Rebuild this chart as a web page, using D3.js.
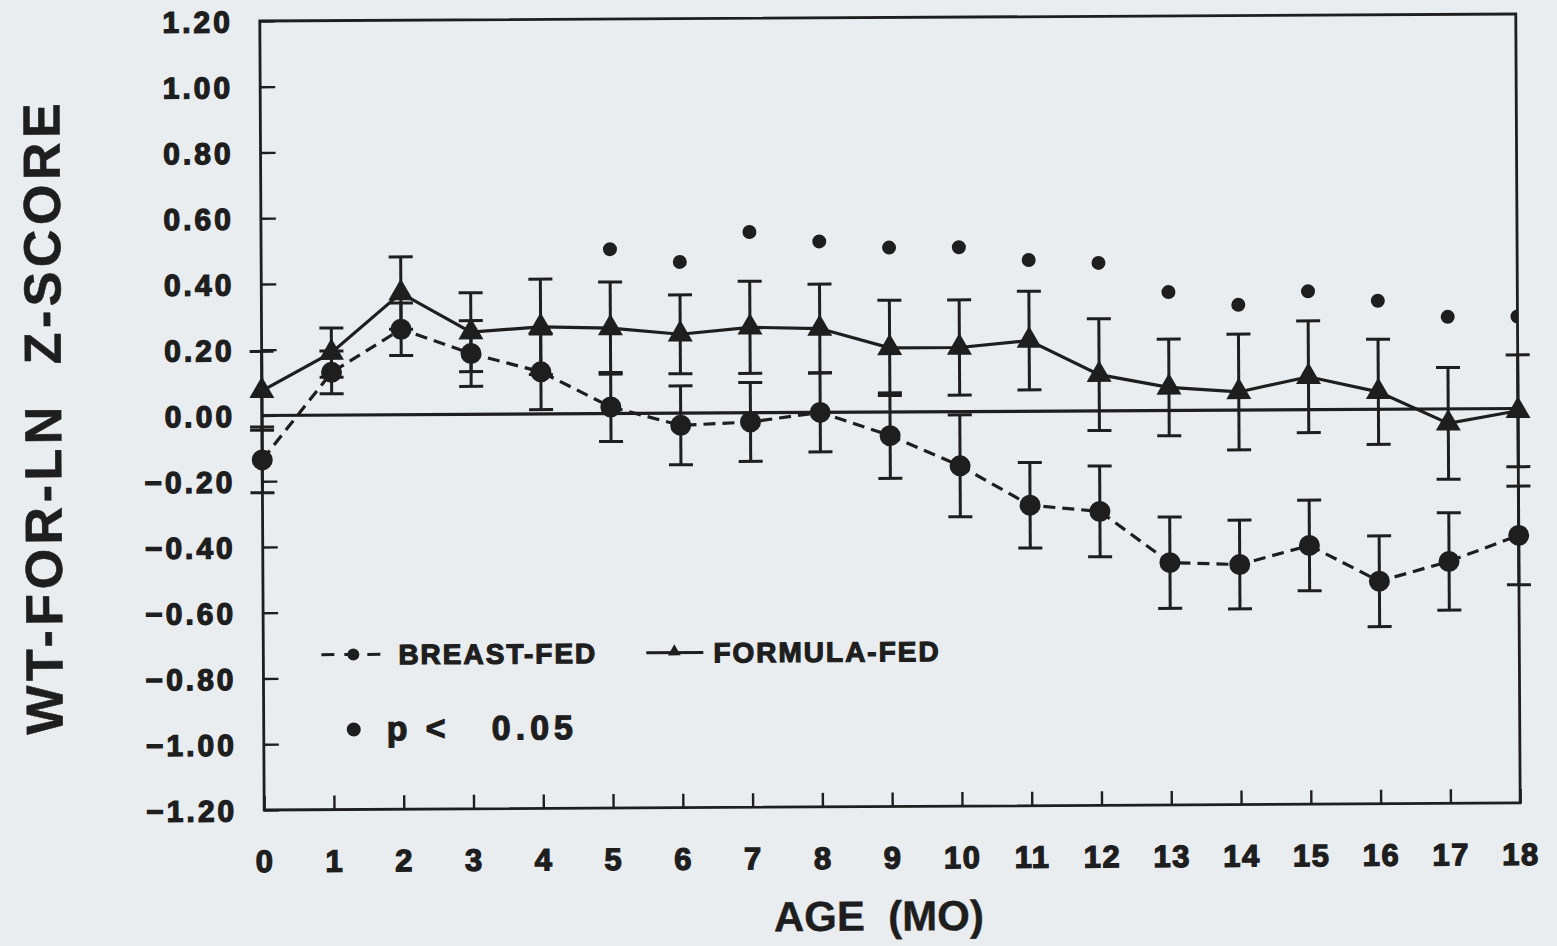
<!DOCTYPE html>
<html>
<head>
<meta charset="utf-8">
<script src="https://cdn.jsdelivr.net/npm/d3@7"></script>
<style>
  html, body { margin: 0; padding: 0; background: #e9edf0; }
  svg { display: block; }
  text { font-family: "Liberation Sans", Arial, sans-serif; font-weight: bold; fill: #1e1e1e; white-space: pre; }
</style>
</head>
<body>
<svg id="chart" width="1557" height="946"></svg>
<script>
// Weight-for-length z-score by age, breast-fed vs formula-fed infants
const months = d3.range(0, 19);
const monthLabels = months.map(String);
const yTicks = [1.2, 1.0, 0.8, 0.6, 0.4, 0.2, 0.0, -0.2, -0.4, -0.6, -0.8, -1.0, -1.2];

const breastFed  = [-0.135, 0.13, 0.26, 0.185, 0.128, 0.02, -0.037, -0.028, 0.0, -0.072, -0.165, -0.286, -0.306, -0.463, -0.47, -0.413, -0.523, -0.464, -0.386];
const breastErr  = [0.10, 0.065, 0.08, 0.10, 0.115, 0.105, 0.12, 0.12, 0.12, 0.13, 0.155, 0.13, 0.138, 0.139, 0.135, 0.138, 0.138, 0.148, 0.15];
const formulaFed = [0.075, 0.19, 0.37, 0.25, 0.265, 0.26, 0.24, 0.26, 0.255, 0.195, 0.195, 0.215, 0.11, 0.07, 0.055, 0.10, 0.053, -0.044, -0.007];
const formulaErr = [0.12, 0.075, 0.11, 0.12, 0.145, 0.14, 0.12, 0.14, 0.135, 0.145, 0.145, 0.15, 0.17, 0.147, 0.176, 0.17, 0.16, 0.17, 0.17];

// months where the difference is significant (p < 0.05) and the height of each marker
const sigMonths = [5, 6, 7, 8, 9, 10, 11, 12, 13, 14, 15, 16, 17, 18];
const sigLevel  = [0.50, 0.46, 0.55, 0.52, 0.50, 0.50, 0.46, 0.45, 0.36, 0.32, 0.36, 0.33, 0.28, 0.28];

const ink = "#1e1e1e";
const svg = d3.select("#chart");

const plotLeft = 262, plotRight = 1518, plotTop = 21, plotBottom = 810;
const x = d3.scaleLinear().domain([0, 18]).range([plotLeft, plotRight]);
const y = d3.scaleLinear().domain([-1.2, 1.2]).range([plotBottom, plotTop]);

// whole figure sits very slightly askew, like a scanned page
const root = svg.append("g").attr("transform", `rotate(-0.32 ${plotLeft} ${y(0)})`);

root.append("clipPath").attr("id", "plotClip")
  .append("rect").attr("x", plotLeft).attr("y", plotTop)
  .attr("width", plotRight - plotLeft).attr("height", plotBottom - plotTop);

// frame
root.append("rect")
  .attr("x", plotLeft).attr("y", plotTop).attr("width", plotRight - plotLeft).attr("height", plotBottom - plotTop)
  .attr("fill", "none").attr("stroke", ink).attr("stroke-width", 2.8);

// axes
const xAxis = d3.axisBottom(x).tickValues(months).tickFormat((d, i) => monthLabels[i])
  .tickSizeInner(-14).tickSizeOuter(0).tickPadding(40);
const gx = root.append("g").attr("transform", `translate(0,${plotBottom})`).call(xAxis);
gx.select(".domain").remove();
gx.selectAll("line").attr("stroke", ink).attr("stroke-width", 2.4);
gx.selectAll("text").attr("font-size", 31).attr("letter-spacing", 1.5).attr("fill", ink)
  .attr("stroke", ink).attr("stroke-width", 1.3);

const yAxis = d3.axisLeft(y).tickValues(yTicks)
  .tickFormat(d => (d < 0 ? "\u2212" : "") + Math.abs(d).toFixed(2))
  .tickSizeInner(-15).tickSizeOuter(0).tickPadding(27);
const gy = root.append("g").attr("transform", `translate(${plotLeft},0)`).call(yAxis);
gy.select(".domain").remove();
gy.selectAll("line").attr("stroke", ink).attr("stroke-width", 2.4);
gy.selectAll("text").attr("font-size", 30).attr("letter-spacing", 3).attr("fill", ink)
  .attr("stroke", ink).attr("stroke-width", 1.3).attr("dy", "0.36em");

// zero reference line
root.append("line")
  .attr("x1", plotLeft).attr("x2", plotRight).attr("y1", y(0)).attr("y2", y(0))
  .attr("stroke", ink).attr("stroke-width", 3.2);

// axis titles
root.append("text")
  .attr("x", 876).attr("y", 934).attr("text-anchor", "middle")
  .attr("font-size", 42).attr("stroke", ink).attr("stroke-width", 0.4)
  .text("AGE  (MO)");
root.append("text")
  .attr("transform", `translate(61,${(plotTop + plotBottom) / 2}) rotate(-90)`)
  .attr("text-anchor", "middle").attr("font-size", 52).attr("letter-spacing", 4.5)
  .attr("stroke", ink).attr("stroke-width", 0.6)
  .text("WT-FOR-LN  Z-SCORE");

// error bars
const capHalf = 12;
function errorBars(values, errs) {
  const g = root.append("g").attr("stroke", ink).attr("stroke-width", 3).attr("fill", "none");
  months.forEach((m, i) => {
    const hi = y(values[i] + errs[i]), lo = y(values[i] - errs[i]), cx = x(m);
    g.append("line").attr("x1", cx).attr("x2", cx).attr("y1", hi).attr("y2", lo);
    g.append("line").attr("x1", cx - capHalf).attr("x2", cx + capHalf).attr("y1", hi).attr("y2", hi);
    g.append("line").attr("x1", cx - capHalf).attr("x2", cx + capHalf).attr("y1", lo).attr("y2", lo);
  });
}
errorBars(formulaFed, formulaErr);
errorBars(breastFed, breastErr);

// series lines
const line = vals => d3.line().x((d, i) => x(months[i])).y(d => y(d))(vals);
root.append("path").attr("d", line(formulaFed))
  .attr("fill", "none").attr("stroke", ink).attr("stroke-width", 3.2);
root.append("path").attr("d", line(breastFed))
  .attr("fill", "none").attr("stroke", ink).attr("stroke-width", 3.2).attr("stroke-dasharray", "12 7");

// markers
const tri = d3.symbol().type(d3.symbolTriangle).size(270);
root.append("g").selectAll("path").data(formulaFed).join("path")
  .attr("d", tri).attr("fill", ink)
  .attr("transform", (d, i) => `translate(${x(months[i])},${y(d)})`);
root.append("g").selectAll("circle").data(breastFed).join("circle")
  .attr("cx", (d, i) => x(months[i])).attr("cy", d => y(d)).attr("r", 10.5).attr("fill", ink);

// significance markers
root.append("g").attr("clip-path", "url(#plotClip)")
  .selectAll("circle").data(sigMonths).join("circle")
  .attr("cx", d => x(d)).attr("cy", (d, i) => y(sigLevel[i])).attr("r", 7).attr("fill", ink);

// legend
const lg = root.append("g");
const legY = 655;
lg.append("line").attr("x1", 320).attr("x2", 384).attr("y1", legY).attr("y2", legY)
  .attr("stroke", ink).attr("stroke-width", 3).attr("stroke-dasharray", "13 10");
lg.append("circle").attr("cx", 352).attr("cy", legY).attr("r", 6).attr("fill", ink);
lg.append("text").attr("x", 397).attr("y", legY + 10).attr("font-size", 28).attr("letter-spacing", 2)
  .attr("stroke", ink).attr("stroke-width", 1.2).text("BREAST-FED");

lg.append("line").attr("x1", 645).attr("x2", 702).attr("y1", legY).attr("y2", legY)
  .attr("stroke", ink).attr("stroke-width", 3);
lg.append("path").attr("d", d3.symbol().type(d3.symbolTriangle).size(70))
  .attr("transform", `translate(673,${legY - 1})`).attr("fill", ink);
lg.append("text").attr("x", 712).attr("y", legY + 10).attr("font-size", 28).attr("letter-spacing", 2)
  .attr("stroke", ink).attr("stroke-width", 1.2).text("FORMULA-FED");

lg.append("circle").attr("cx", 352).attr("cy", 730).attr("r", 7).attr("fill", ink);
const pText = lg.append("text").attr("y", 741).attr("font-size", 34)
  .attr("stroke", ink).attr("stroke-width", 1.2);
pText.append("tspan").attr("x", 385).text("p");
pText.append("tspan").attr("x", 424).text("<");
pText.append("tspan").attr("x", 490).attr("letter-spacing", 5).text("0.05");
</script>
</body>
</html>
